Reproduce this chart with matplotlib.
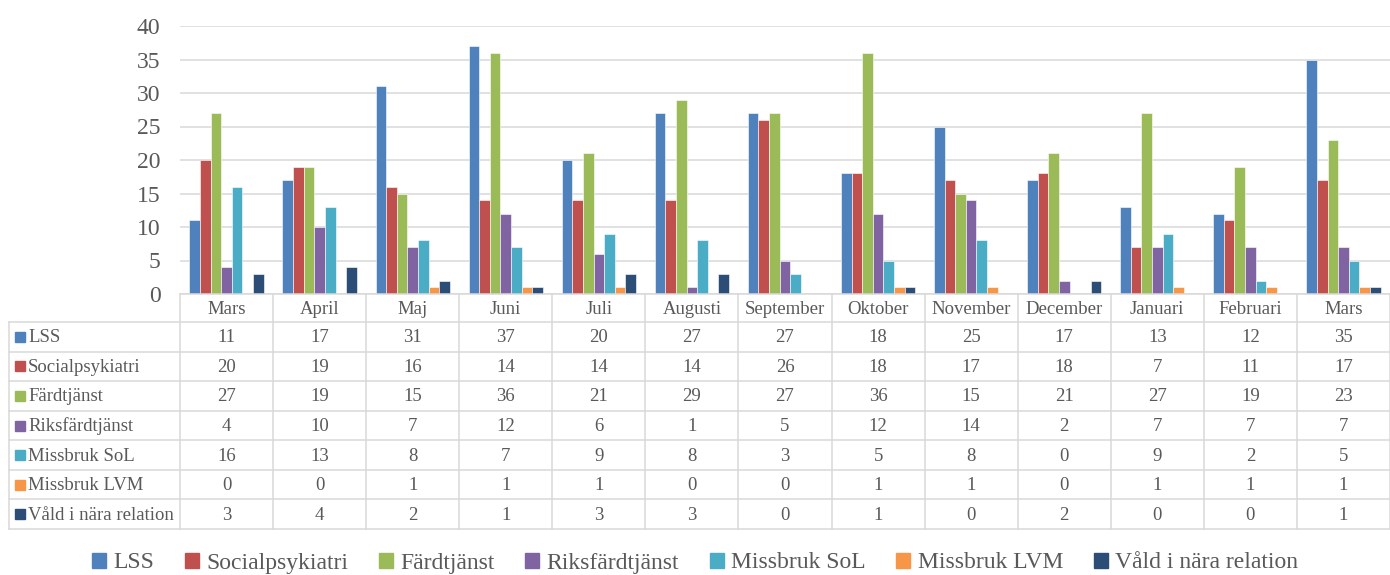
import matplotlib.pyplot as plt
from matplotlib.patches import Rectangle
import numpy as np

plt.rcParams['font.family'] = ['Liberation Serif', 'DejaVu Serif']

# Data
months = ['Mars', 'April', 'Maj', 'Juni', 'Juli', 'Augusti', 'September',
          'Oktober', 'November', 'December', 'Januari', 'Februari', 'Mars']
series = ['LSS', 'Socialpsykiatri', 'Färdtjänst', 'Riksfärdtjänst',
          'Missbruk SoL', 'Missbruk LVM', 'Våld i nära relation']
lss = [11, 17, 31, 37, 20, 27, 27, 18, 25, 17, 13, 12, 35]
socialpsykiatri = [20, 19, 16, 14, 14, 14, 26, 18, 17, 18, 7, 11, 17]
fardtjanst = [27, 19, 15, 36, 21, 29, 27, 36, 15, 21, 27, 19, 23]
riksfardtjanst = [4, 10, 7, 12, 6, 1, 5, 12, 14, 2, 7, 7, 7]
missbruk_sol = [16, 13, 8, 7, 9, 8, 3, 5, 8, 0, 9, 2, 5]
missbruk_lvm = [0, 0, 1, 1, 1, 0, 0, 1, 1, 0, 1, 1, 1]
vald = [3, 4, 2, 1, 3, 3, 0, 1, 0, 2, 0, 0, 1]
values = [lss, socialpsykiatri, fardtjanst, riksfardtjanst,
          missbruk_sol, missbruk_lvm, vald]
colors = ['#4F81BD', '#C0504D', '#9BBB59', '#8064A2',
          '#4BACC6', '#F79646', '#2C4D75']

txt = '#595959'
grid = '#D9D9D9'
W, H = 1390, 575

fig = plt.figure(figsize=(W / 100, H / 100), dpi=100)

# Bar chart area
ax = fig.add_axes([180 / W, 1 - 294 / H, 1210 / W, 268 / H])
x = np.arange(len(months))
n = len(series)
bw = 0.114
for i in range(n):
    ax.bar(x + (i - (n - 1) / 2) * bw, values[i], width=bw, color=colors[i],
           edgecolor='white', linewidth=0.4, zorder=3)
ax.set_xlim(-0.5, len(months) - 0.5)
ax.set_ylim(0, 40)
ax.set_yticks(range(0, 41, 5))
ax.yaxis.grid(True, color=grid, linewidth=1.1, zorder=0)
ax.tick_params(axis='y', length=0, pad=14, labelsize=17, labelcolor=txt)
ax.set_xticks([])
for s in ax.spines.values():
    s.set_visible(False)

# Data table below
colw = 1210 / len(months)
x0 = -0.5 - (180 - 9) / colw
head_h = 28
row_h = (529 - 294 - head_h) / n
tax = fig.add_axes([9 / W, 1 - 529 / H, (W - 9) / W, (529 - 294) / H])
tax.set_xlim(x0, len(months) - 0.5)
tax.set_ylim(head_h + n * row_h, 0)
tax.axis('off')
lkw = dict(color=grid, linewidth=1.1, clip_on=False)

# horizontal lines
tax.plot([-0.5, len(months) - 0.5], [0, 0], **lkw)
for r in range(n + 1):
    y = head_h + r * row_h
    tax.plot([x0, len(months) - 0.5], [y, y], **lkw)
# vertical lines
for c in range(len(months) + 1):
    tax.plot([c - 0.5, c - 0.5], [0, head_h + n * row_h], **lkw)
tax.plot([x0, x0], [head_h, head_h + n * row_h], **lkw)

fs = 13.5
for c, m in enumerate(months):
    tax.text(c, head_h / 2 + 1, m, ha='center', va='center', fontsize=fs, color=txt)
px = 1 / colw
for r in range(n):
    yc = head_h + (r + 0.5) * row_h
    tax.add_patch(Rectangle((x0 + 6 * px, yc - 5), 10 * px, 10,
                            color=colors[r], clip_on=False))
    tax.text(x0 + 19 * px, yc + 1, series[r], ha='left', va='center',
             fontsize=fs, color=txt)
    for c in range(len(months)):
        tax.text(c, yc + 1, str(values[r][c]), ha='center', va='center',
                 fontsize=fs, color=txt)

# Legend
handles = [Rectangle((0, 0), 1, 1, color=c) for c in colors]
fig.legend(handles, series, loc='center', bbox_to_anchor=(0.5, 1 - 563 / H),
           ncol=n, frameon=False, fontsize=17, labelcolor=txt,
           handlelength=0.6, handleheight=0.6, handletextpad=0.3,
           columnspacing=1.3)

fig.savefig('out.png', dpi=100)
